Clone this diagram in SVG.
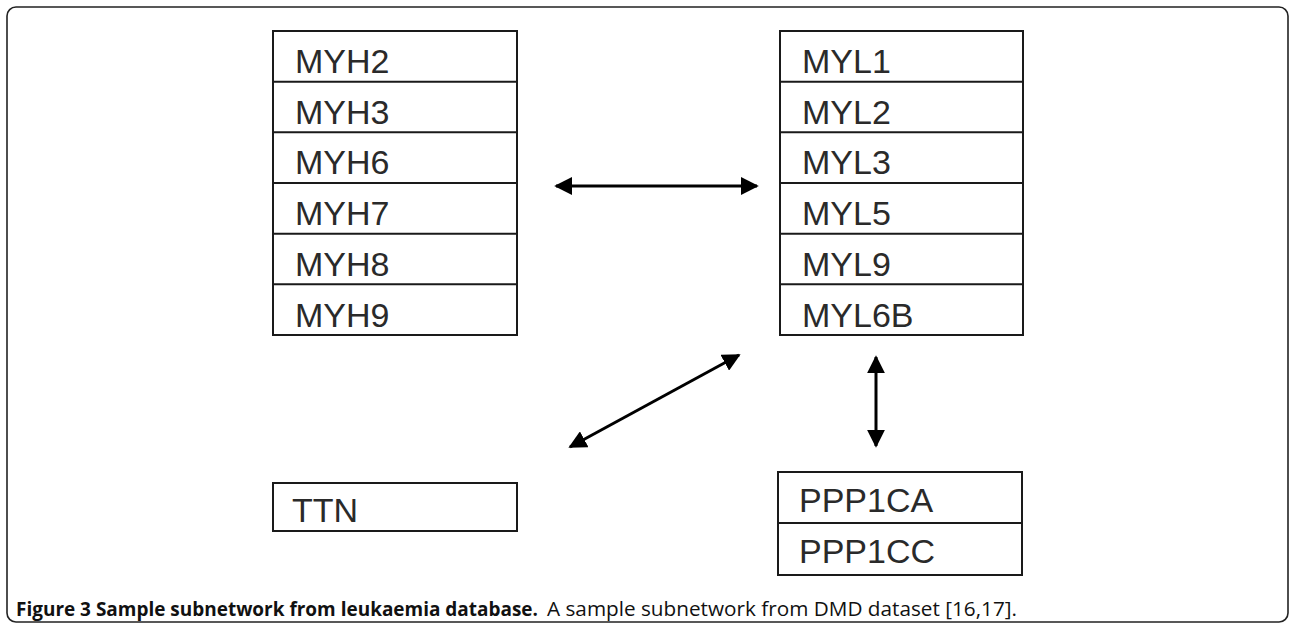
<svg xmlns="http://www.w3.org/2000/svg" width="1289" height="625" viewBox="0 0 1289 625">
<style>
.box{fill:#fff;stroke:#1a1a1a;stroke-width:2}
.lbl{font-family:"Liberation Sans",Arial,sans-serif;font-size:34px;fill:#2a2a2a}
.con{stroke:#000;stroke-width:3;fill:none;marker-start:url(#ah);marker-end:url(#ah)}
.cap{font-family:"Open Sans","Noto Sans",sans-serif;font-size:20px;fill:#111}
</style>
<defs>
<marker id="ah" viewBox="0 0 10 10" refX="9" refY="5" markerWidth="6" markerHeight="6" orient="auto-start-reverse" markerUnits="strokeWidth">
<path d="M0,0 L10,5 L0,10 z" fill="#000"/>
</marker>
</defs>
<rect x="0" y="0" width="1289" height="625" fill="#fff"/>
<rect id="frame" x="7" y="7" width="1281" height="615" rx="9" fill="none" stroke="#222" stroke-width="1.6"/>

<g id="myh">
<rect class="box" x="273" y="31" width="244" height="304"/>
<line class="box" x1="273" y1="81.7" x2="517" y2="81.7"/>
<line class="box" x1="273" y1="132.3" x2="517" y2="132.3"/>
<line class="box" x1="273" y1="183" x2="517" y2="183"/>
<line class="box" x1="273" y1="233.7" x2="517" y2="233.7"/>
<line class="box" x1="273" y1="284.3" x2="517" y2="284.3"/>
<text class="lbl" x="295" y="73">MYH2</text>
<text class="lbl" x="295" y="124">MYH3</text>
<text class="lbl" x="295" y="174">MYH6</text>
<text class="lbl" x="295" y="225">MYH7</text>
<text class="lbl" x="295" y="276">MYH8</text>
<text class="lbl" x="295" y="327">MYH9</text>
</g>

<g id="myl">
<rect class="box" x="780" y="31" width="243" height="304"/>
<line class="box" x1="780" y1="81.7" x2="1023" y2="81.7"/>
<line class="box" x1="780" y1="132.3" x2="1023" y2="132.3"/>
<line class="box" x1="780" y1="183" x2="1023" y2="183"/>
<line class="box" x1="780" y1="233.7" x2="1023" y2="233.7"/>
<line class="box" x1="780" y1="284.3" x2="1023" y2="284.3"/>
<text class="lbl" x="802" y="73">MYL1</text>
<text class="lbl" x="802" y="124">MYL2</text>
<text class="lbl" x="802" y="174">MYL3</text>
<text class="lbl" x="802" y="225">MYL5</text>
<text class="lbl" x="802" y="276">MYL9</text>
<text class="lbl" x="802" y="327">MYL6B</text>
</g>

<g id="ttn">
<rect class="box" x="273" y="483" width="244" height="48"/>
<text class="lbl" x="292" y="522">TTN</text>
</g>

<g id="ppp1">
<rect class="box" x="778" y="472" width="244" height="103"/>
<line class="box" x1="778" y1="523" x2="1022" y2="523"/>
<text class="lbl" x="799" y="512">PPP1CA</text>
<text class="lbl" x="799" y="563">PPP1CC</text>
</g>

<g id="connectors">
<line class="con" x1="556" y1="186" x2="757" y2="186"/>
<line class="con" x1="570" y1="447" x2="739" y2="355"/>
<line class="con" x1="876" y1="357" x2="876" y2="446"/>
</g>

<text class="cap" x="16" y="616"><tspan font-weight="bold" textLength="522" lengthAdjust="spacingAndGlyphs">Figure 3 Sample subnetwork from leukaemia database.</tspan><tspan x="547" textLength="470" lengthAdjust="spacingAndGlyphs">A sample subnetwork from DMD dataset [16,17].</tspan></text>
</svg>
